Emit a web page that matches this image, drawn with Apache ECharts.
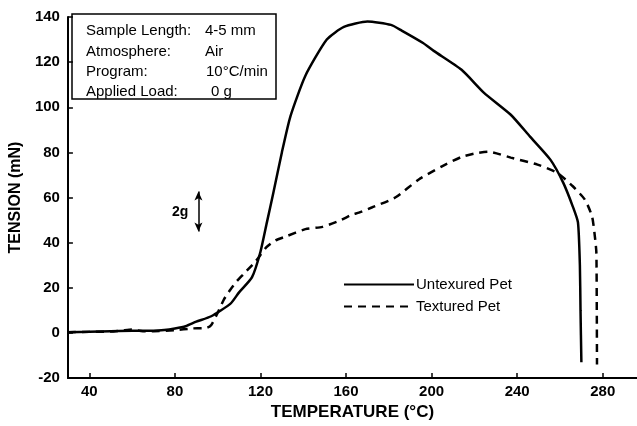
<!DOCTYPE html>
<html>
<head>
<meta charset="utf-8">
<script src="https://cdn.jsdelivr.net/npm/echarts@6/dist/echarts.min.js"></script>
<style>
html,body{margin:0;padding:0;background:#fff;}
#main{width:637px;height:426px;}
</style>
</head>
<body>
<div id="main"></div>
<script>
// Untexured Pet (solid)
var untexturedX = [30, 40, 50, 60, 70, 75, 80, 85, 90, 97, 106, 110, 116, 120, 123, 126, 130, 134, 141, 151, 159, 170, 181, 186, 196, 201, 214, 224.5, 237, 246, 255.5, 261.5, 266, 268.4, 269.3, 269.6, 270];
var untexturedY = [0.3, 0.5, 0.8, 1, 1, 1.3, 2, 3, 5, 7.4, 13, 18, 24.6, 36, 49, 62, 80, 96, 114, 130, 135.6, 138, 136.5, 134, 128.5, 125, 116.6, 106.4, 96.7, 87, 76.8, 66.6, 56, 49, 30, 10, -13];
// Textured Pet (dashed)
var texturedX = [30, 40, 50, 55, 60, 65, 70, 80, 88, 95, 97, 100, 103, 106, 109, 112, 117.7, 122.8, 127, 132, 141, 149, 157, 163, 166, 172, 183, 194, 204.6, 214, 220, 226.4, 237, 249.5, 258.7, 266, 271.7, 275, 276.3, 277, 277.2, 277.3];
var texturedY = [0.3, 0.5, 0.6, 1, 1.5, 0.8, 0.8, 1.2, 2, 2.3, 3.5, 9, 15, 19.3, 23, 26, 31.7, 38, 41, 42.8, 46, 47, 49.8, 52.5, 53.3, 55.6, 60, 68, 73.7, 78, 79.5, 80.3, 77.7, 74.6, 71, 65, 59, 51.6, 42.8, 35.7, 10, -14];
var seriesNames = ['Untexured Pet', 'Textured Pet'];
var xTicks = [40, 80, 120, 160, 200, 240, 280];
var scaleBarX = 91;
var scaleBarY = [45, 62.7];
var scaleBarLabel = '2g';
var infoLabels = ['Sample Length:', 'Atmosphere:', 'Program:', 'Applied Load:'];
var infoValues = ['4-5 mm', 'Air', '10°C/min', '0 g'];

function pairs(xs, ys){ return xs.map(function(x,i){ return [x, ys[i]]; }); }

var chart = echarts.init(document.getElementById('main'), null, {renderer:'canvas'});
var FONT = '"Liberation Sans", Arial, Helvetica, sans-serif';

var graphics = [];
var lineYs = [32, 53, 73, 93];
var valueXs = [205, 205, 206, 211];
infoLabels.forEach(function(t, i){
  graphics.push({type:'text', left:86, top:lineYs[i]-9, style:{text:t, font:'15px ' + FONT, fill:'#000'}});
  graphics.push({type:'text', left:valueXs[i], top:lineYs[i]-9, style:{text:infoValues[i], font:'15px ' + FONT, fill:'#000'}});
});
graphics.push({type:'rect', shape:{x:72, y:14, width:204, height:85}, style:{fill:'none', stroke:'#000', lineWidth:1.5}, z:10});
graphics.push({type:'text', left:172, top:205, style:{text:scaleBarLabel, font:'bold 14px ' + FONT, fill:'#000'}});

var option = {
  backgroundColor:'#fff',
  animation:false,
  textStyle:{fontFamily:FONT},
  grid:{left:61, right:0, top:17, bottom:47, containLabel:false},
  legend:{
    orient:'vertical', left:338, top:272, itemWidth:70, itemHeight:14, itemGap:7,
    itemStyle:{opacity:0},
    textStyle:{fontSize:15, color:'#000', fontFamily:FONT, padding:[0,0,0,-3]},
    data:seriesNames
  },
  xAxis:{
    type:'value', min:30, max:296,
    name:'TEMPERATURE (°C)', nameLocation:'middle', nameGap:21,
    nameTextStyle:{fontSize:17, fontWeight:'bold', color:'#000', fontFamily:FONT},
    axisLine:{show:true, onZero:false, lineStyle:{color:'#000', width:2}},
    axisTick:{show:true, inside:true, length:5, customValues:xTicks, lineStyle:{color:'#000', width:1.5}},
    axisLabel:{customValues:xTicks, fontSize:15, fontWeight:'bold', color:'#000', margin:6, fontFamily:FONT},
    splitLine:{show:false}
  },
  yAxis:{
    type:'value', min:-20, max:140, interval:20,
    name:'TENSION (mN)', nameLocation:'middle', nameGap:43, nameRotate:90,
    nameTextStyle:{fontSize:16, fontWeight:'bold', color:'#000', fontFamily:FONT},
    axisLine:{show:true, onZero:false, lineStyle:{color:'#000', width:2}},
    axisTick:{show:true, inside:true, length:5, lineStyle:{color:'#000', width:1.5}},
    axisLabel:{fontSize:15, fontWeight:'bold', color:'#000', margin:8, fontFamily:FONT},
    splitLine:{show:false}
  },
  series:[
    {
      name:seriesNames[0], type:'line', data:pairs(untexturedX, untexturedY),
      showSymbol:false, symbol:'none', smooth:0.2, color:'#000',
      lineStyle:{color:'#000', width:2.5, type:'solid'}
    },
    {
      name:seriesNames[1], type:'line', data:pairs(texturedX, texturedY),
      showSymbol:false, symbol:'none', smooth:0.2, color:'#000',
      lineStyle:{color:'#000', width:2.5, type:[8,6]},
      markLine:{
        silent:true, symbol:['arrow','arrow'], symbolSize:[6,9],
        label:{show:false},
        lineStyle:{color:'#000', width:1.5, type:'solid'},
        data:[[{coord:[scaleBarX, scaleBarY[0]]},{coord:[scaleBarX, scaleBarY[1]]}]]
      }
    }
  ],
  graphic:graphics
};
chart.setOption(option);
</script>
</body>
</html>
